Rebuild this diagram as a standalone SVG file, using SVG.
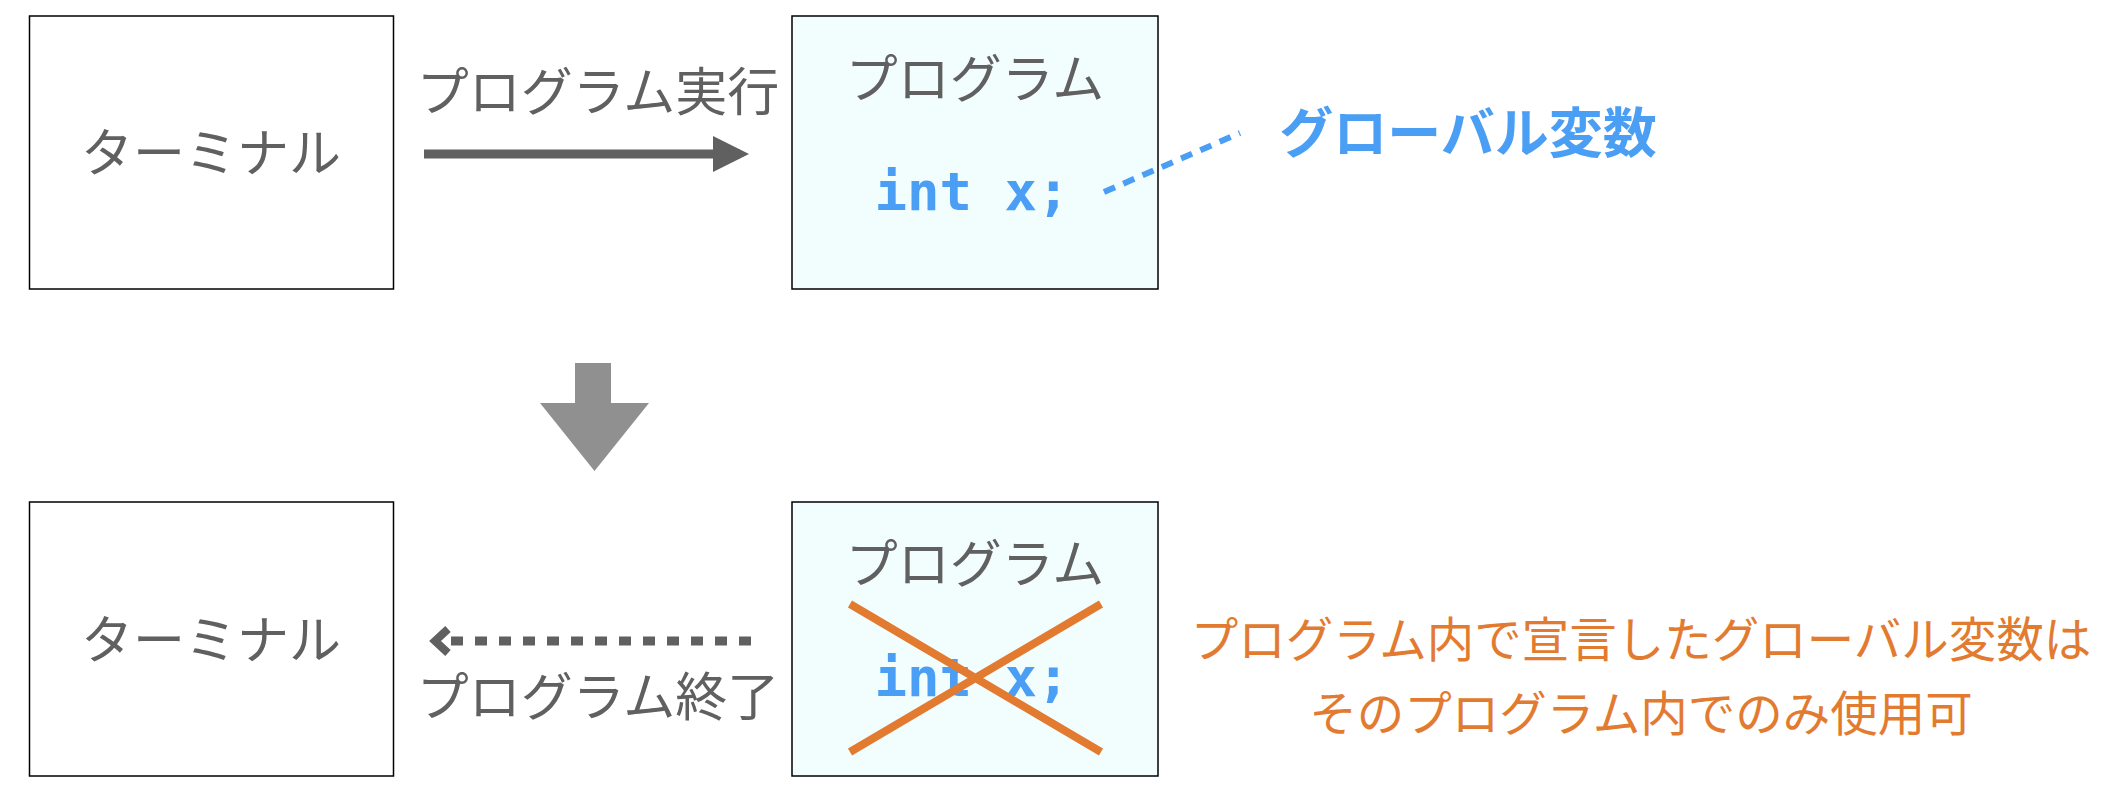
<svg xmlns="http://www.w3.org/2000/svg" width="2106" height="798" viewBox="0 0 2106 798">
<style>
text{font-family:"Noto Sans CJK JP","Noto Sans",sans-serif;text-anchor:middle}
.g{fill:#606060;font-size:52px}
.code{font-family:"DejaVu Sans Mono",monospace;font-weight:bold;fill:#4a9ff5;font-size:54px}
.box{fill:#fff;stroke:#000;stroke-width:1.5}
.prog{fill:#f2fdfe;stroke:#000;stroke-width:1.5}
.o{fill:#e27b30;font-size:47.5px}
</style>
<defs>
<marker id="ah" markerWidth="4" markerHeight="4" refX="3" refY="2" orient="auto" markerUnits="strokeWidth"><path d="M0,0 L4,2 L0,4 Z" fill="#606060"/></marker>
</defs>
<g id="terminal1"><rect class="box" x="29.5" y="16" width="364" height="273"/><text class="g" x="211" y="172">ターミナル</text></g>
<g id="program1"><rect class="prog" x="792" y="16" width="366" height="273"/><text class="g" x="975" y="98">プログラム</text><text class="code" x="972" y="210">int x;</text></g>
<g id="label-global"><text x="1468" y="153" style="font-weight:bold;fill:#4a9ff5;font-size:54px">グローバル変数</text></g>
<g id="terminal2"><rect class="box" x="29.5" y="502" width="364" height="274"/><text class="g" x="211" y="659">ターミナル</text></g>
<g id="program2"><rect class="prog" x="792" y="502" width="366" height="274"/><text class="g" x="975" y="583">プログラム</text><text class="code" x="972" y="696">int x;</text>
<path d="M850,604 L1101,752 M850,752 L1101,604" stroke="#e27b30" stroke-width="8"/></g>
<g id="note"><text class="o" x="1641" y="657">プログラム内で宣言したグローバル変数は</text><text class="o" x="1641" y="731">そのプログラム内でのみ使用可</text></g>
<g id="connectors">
<line x1="424" y1="154" x2="740" y2="154" stroke="#606060" stroke-width="9" marker-end="url(#ah)"/>
<text class="g" x="598" y="111">プログラム実行</text>
<line x1="1104" y1="192" x2="1240" y2="133" stroke="#4a9ff5" stroke-width="6" stroke-dasharray="12,9"/>
<path d="M575,363 H611 V403 H649 L594.5,471 L540,403 H575 Z" fill="#909090"/>
<line x1="751" y1="641" x2="450" y2="641" stroke="#606060" stroke-width="9" stroke-dasharray="12,12"/>
<path d="M448,629 L435,641 L448,653" fill="none" stroke="#606060" stroke-width="8"/>
<text class="g" x="598" y="716">プログラム終了</text>
</g>
</svg>
